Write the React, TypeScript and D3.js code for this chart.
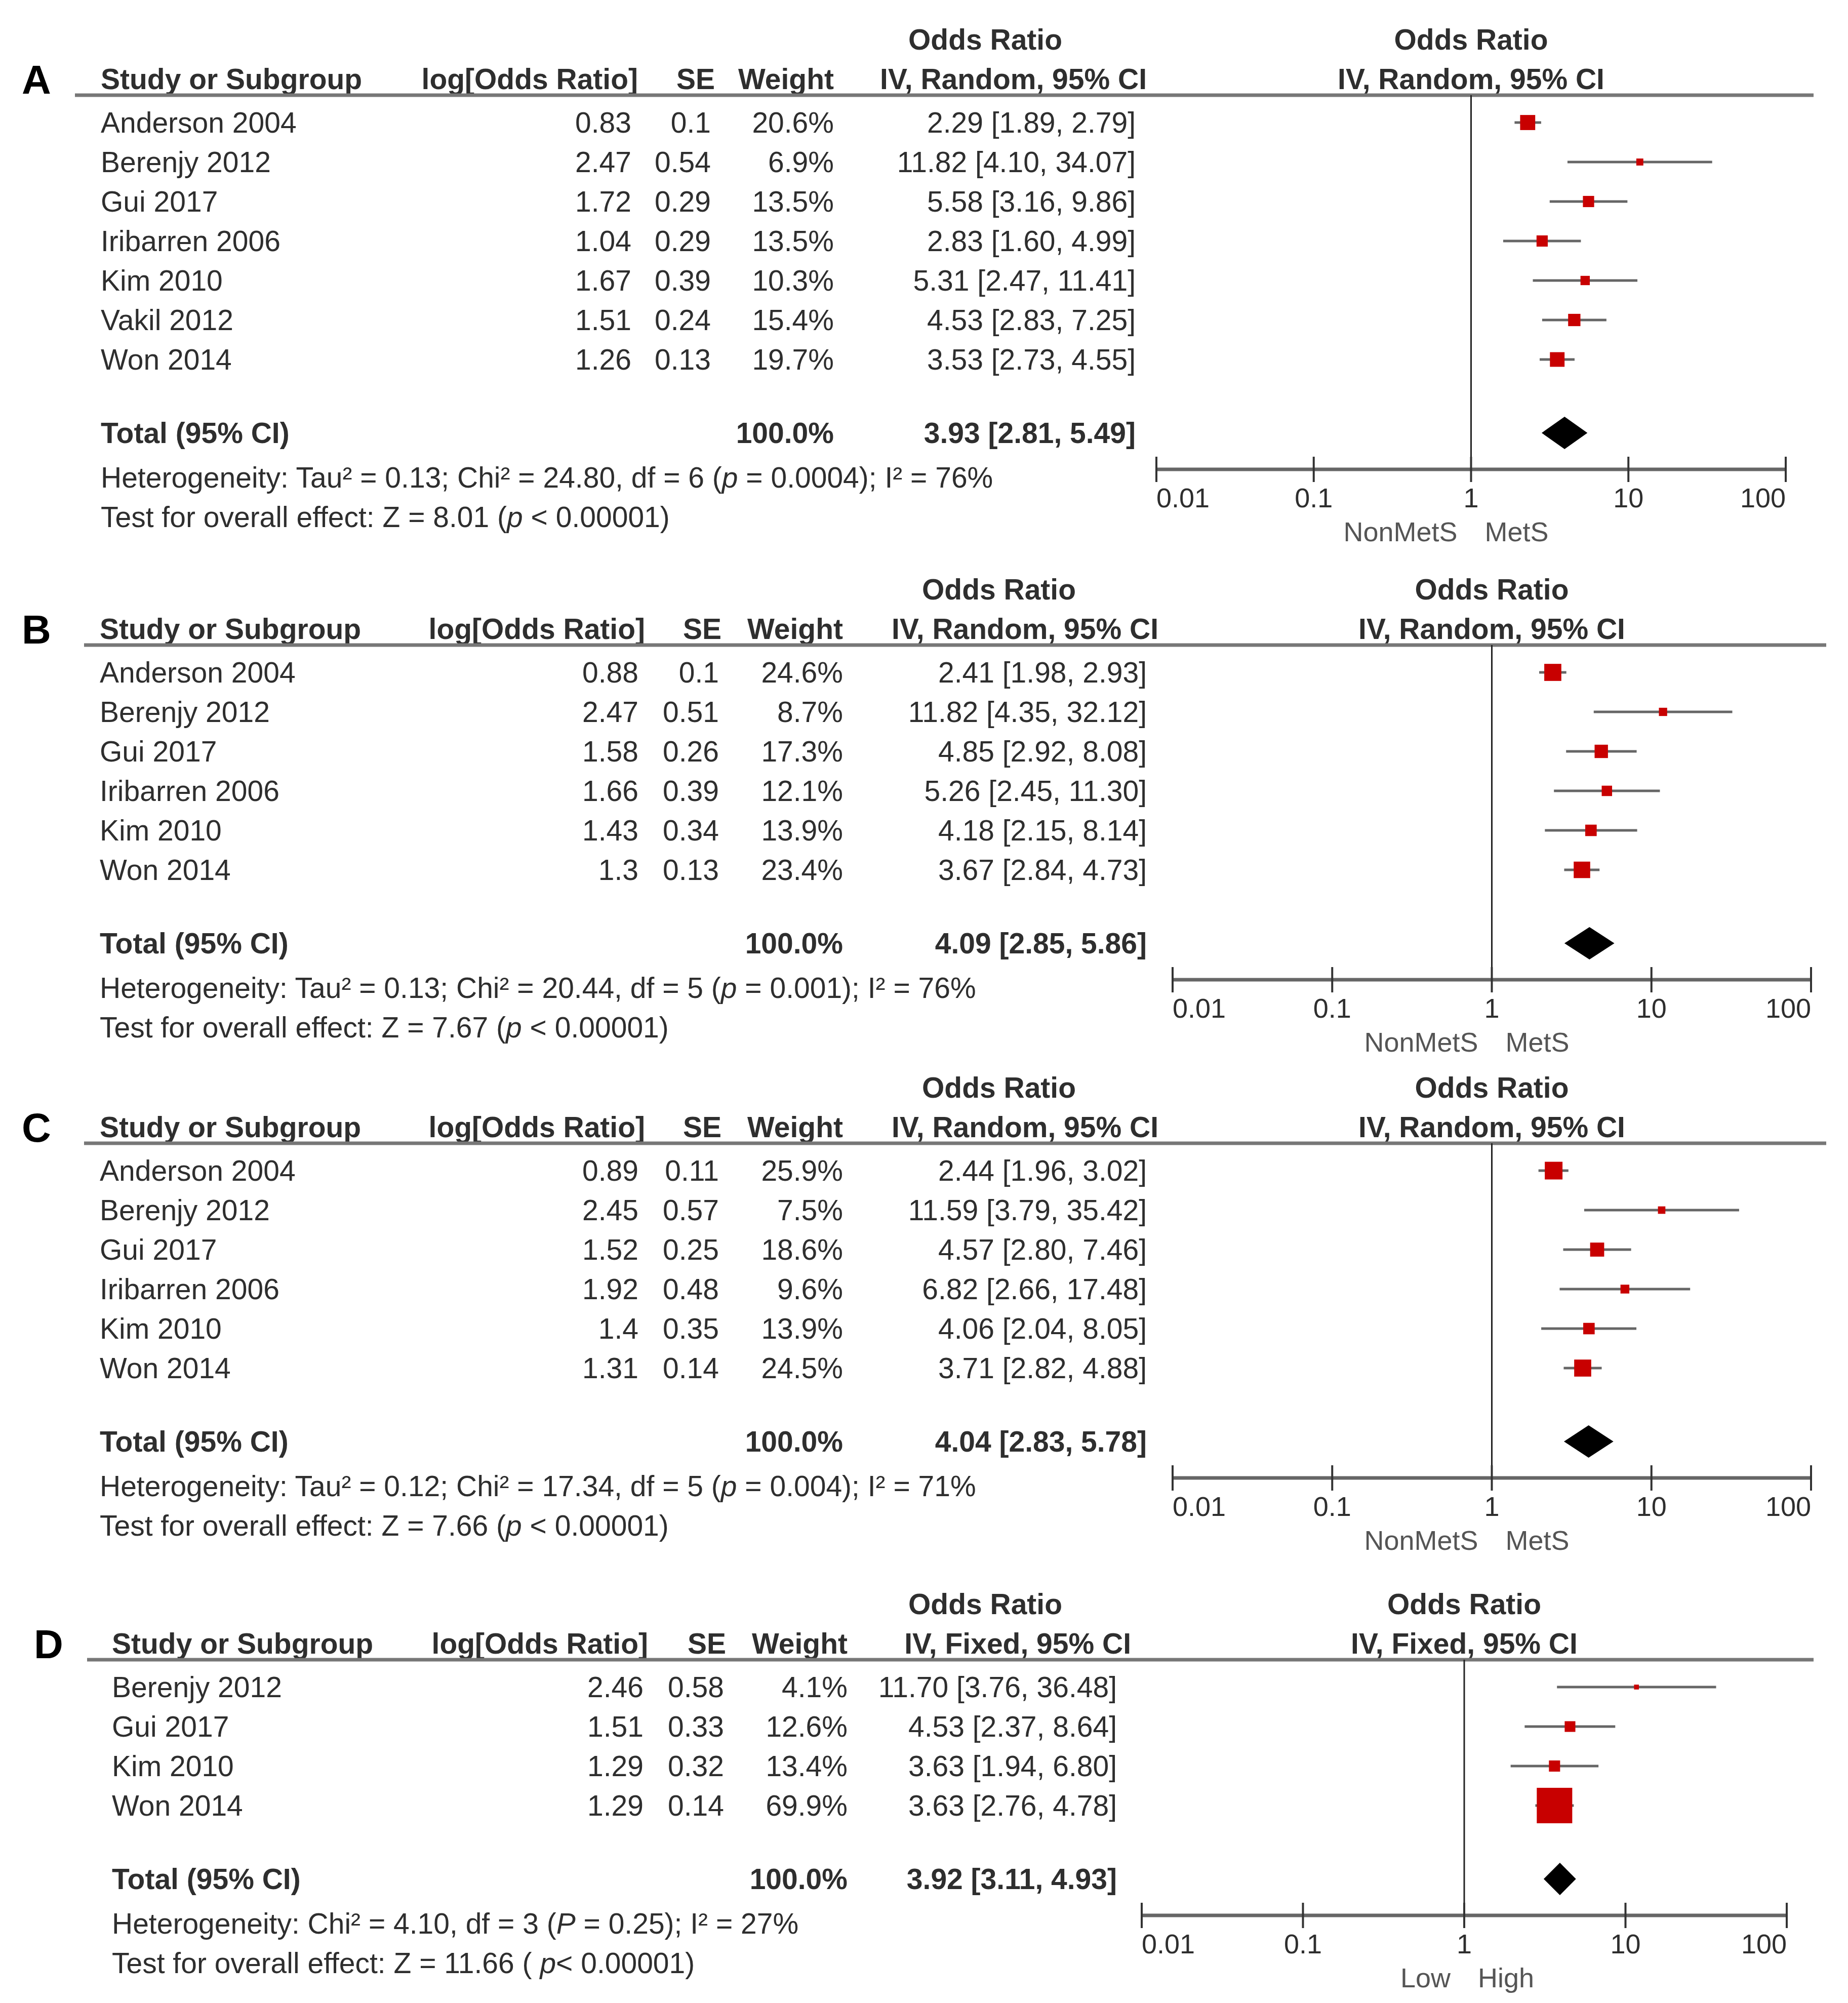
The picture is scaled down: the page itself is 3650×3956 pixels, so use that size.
import * as d3 from "d3";
import React, { useEffect } from "react";

// ---- data ----
const studiesA = ["Anderson 2004", "Berenjy 2012", "Gui 2017", "Iribarren 2006", "Kim 2010", "Vakil 2012", "Won 2014"];
const logOrA = [0.83, 2.47, 1.72, 1.04, 1.67, 1.51, 1.26];
const seA = [0.1, 0.54, 0.29, 0.29, 0.39, 0.24, 0.13];
const weightA = [20.6, 6.9, 13.5, 13.5, 10.3, 15.4, 19.7];
const orA = [2.29, 11.82, 5.58, 2.83, 5.31, 4.53, 3.53];
const lowA = [1.89, 4.1, 3.16, 1.6, 2.47, 2.83, 2.73];
const highA = [2.79, 34.07, 9.86, 4.99, 11.41, 7.25, 4.55];
const totalA = [3.93, 2.81, 5.49];

const studiesB = ["Anderson 2004", "Berenjy 2012", "Gui 2017", "Iribarren 2006", "Kim 2010", "Won 2014"];
const logOrB = [0.88, 2.47, 1.58, 1.66, 1.43, 1.3];
const seB = [0.1, 0.51, 0.26, 0.39, 0.34, 0.13];
const weightB = [24.6, 8.7, 17.3, 12.1, 13.9, 23.4];
const orB = [2.41, 11.82, 4.85, 5.26, 4.18, 3.67];
const lowB = [1.98, 4.35, 2.92, 2.45, 2.15, 2.84];
const highB = [2.93, 32.12, 8.08, 11.3, 8.14, 4.73];
const totalB = [4.09, 2.85, 5.86];

const studiesC = ["Anderson 2004", "Berenjy 2012", "Gui 2017", "Iribarren 2006", "Kim 2010", "Won 2014"];
const logOrC = [0.89, 2.45, 1.52, 1.92, 1.4, 1.31];
const seC = [0.11, 0.57, 0.25, 0.48, 0.35, 0.14];
const weightC = [25.9, 7.5, 18.6, 9.6, 13.9, 24.5];
const orC = [2.44, 11.59, 4.57, 6.82, 4.06, 3.71];
const lowC = [1.96, 3.79, 2.8, 2.66, 2.04, 2.82];
const highC = [3.02, 35.42, 7.46, 17.48, 8.05, 4.88];
const totalC = [4.04, 2.83, 5.78];

const studiesD = ["Berenjy 2012", "Gui 2017", "Kim 2010", "Won 2014"];
const logOrD = [2.46, 1.51, 1.29, 1.29];
const seD = [0.58, 0.33, 0.32, 0.14];
const weightD = [4.1, 12.6, 13.4, 69.9];
const orD = [11.7, 4.53, 3.63, 3.63];
const lowD = [3.76, 2.37, 1.94, 2.76];
const highD = [36.48, 8.64, 6.8, 4.78];
const totalD = [3.92, 3.11, 4.93];

const axisTicks = [0.01, 0.1, 1, 10, 100];
const tickLabels = ["0.01", "0.1", "1", "10", "100"];

const FONT = "'Liberation Sans', Arial, Helvetica, sans-serif";
const FS = 57;
const TXT = "#2e2e2e";
const cap = (fs: number) => fs * 0.358;

type PanelProps = {
  top: number;
  label: string;
  labelX: number;
  lineX0: number;
  lineX1: number;
  studyX: number;
  logEnd: number;
  logHeadEnd: number;
  seEnd: number;
  seHeadEnd: number;
  wEnd: number;
  ciEnd: number;
  ciHeadEnd: number;
  orTitleX: number;
  axisRange: [number, number];
  method: string;
  legend: [string, string];
  studies: string[];
  logOr: number[];
  se: number[];
  weight: number[];
  or: number[];
  low: number[];
  high: number[];
  total: number[];
  het: React.ReactNode;
  test: React.ReactNode;
};

const sizeScale = d3.scalePow().exponent(0.7).domain([0, 100]).range([0, 90]);

function Panel(p: PanelProps) {
  const x = d3.scaleLog().domain([0.01, 100]).range(p.axisRange);
  const titleY = p.top + 78;
  const headY = p.top + 156;
  const lineY = p.top + 188;
  const rowY = (i: number) => p.top + 242 + 78 * i;
  const totalY = rowY(p.studies.length - 1) + 145;
  const hetY = totalY + 88;
  const testY = hetY + 78;
  const axisY = totalY + 72;
  const x1 = x(1);
  const b = cap(FS);
  const f2 = (v: number) => v.toFixed(2);
  const ciText = (o: number, l: number, h: number) => `${f2(o)} [${f2(l)}, ${f2(h)}]`;

  return (
    <g fontFamily={FONT} fontSize={FS} fill={TXT}>
      {/* panel letter */}
      <text x={p.labelX} y={headY + cap(80)} fontSize={80} fontWeight="bold" fill="#000" textAnchor="middle">
        {p.label}
      </text>
      {/* headers */}
      <g fontWeight="bold">
        <text x={p.orTitleX} y={titleY + b} textAnchor="middle">Odds Ratio</text>
        <text x={x1} y={titleY + b} textAnchor="middle">Odds Ratio</text>
        <text x={p.studyX} y={headY + b}>Study or Subgroup</text>
        <text x={p.logHeadEnd} y={headY + b} textAnchor="end">log[Odds Ratio]</text>
        <text x={p.seHeadEnd} y={headY + b} textAnchor="end">SE</text>
        <text x={p.wEnd} y={headY + b} textAnchor="end">Weight</text>
        <text x={p.ciHeadEnd} y={headY + b} textAnchor="end">{`IV, ${p.method}, 95% CI`}</text>
        <text x={x1} y={headY + b} textAnchor="middle">{`IV, ${p.method}, 95% CI`}</text>
      </g>
      <line x1={p.lineX0} x2={p.lineX1} y1={lineY} y2={lineY} stroke="#777" strokeWidth={7} />
      {/* line of no effect */}
      <line x1={x1} x2={x1} y1={lineY} y2={axisY} stroke="#222" strokeWidth={3} />
      {/* study rows */}
      {p.studies.map((s, i) => {
        const y = rowY(i);
        const side = sizeScale(p.weight[i]);
        return (
          <g key={s}>
            <text x={p.studyX} y={y + b}>{s}</text>
            <text x={p.logEnd} y={y + b} textAnchor="end">{String(p.logOr[i])}</text>
            <text x={p.seEnd} y={y + b} textAnchor="end">{String(p.se[i])}</text>
            <text x={p.wEnd} y={y + b} textAnchor="end">{`${p.weight[i].toFixed(1)}%`}</text>
            <text x={p.ciEnd} y={y + b} textAnchor="end">{ciText(p.or[i], p.low[i], p.high[i])}</text>
            <line x1={x(p.low[i])} x2={x(p.high[i])} y1={y} y2={y} stroke="#666" strokeWidth={5} />
            <rect
              x={x(p.or[i]) - side / 2}
              y={y - side / 2}
              width={side}
              height={side}
              fill="#c80000"
            />
          </g>
        );
      })}
      {/* total */}
      <g fontWeight="bold">
        <text x={p.studyX} y={totalY + b}>Total (95% CI)</text>
        <text x={p.wEnd} y={totalY + b} textAnchor="end">100.0%</text>
        <text x={p.ciEnd} y={totalY + b} textAnchor="end">{ciText(p.total[0], p.total[1], p.total[2])}</text>
      </g>
      <path
        d={`M${x(p.total[1])},${totalY} L${x(p.total[0])},${totalY - 32} L${x(p.total[2])},${totalY} L${x(p.total[0])},${totalY + 32} Z`}
        fill="#000"
      />
      <text x={p.studyX} y={hetY + b}>{p.het}</text>
      <text x={p.studyX} y={testY + b}>{p.test}</text>
      {/* axis */}
      <line x1={p.axisRange[0]} x2={p.axisRange[1]} y1={axisY} y2={axisY} stroke="#666" strokeWidth={7} />
      {axisTicks.map((t, i) => (
        <g key={t}>
          <line x1={x(t)} x2={x(t)} y1={axisY - 25} y2={axisY + 25} stroke="#333" strokeWidth={4} />
          <text
            x={x(t)}
            y={axisY + 55 + b}
            fontSize={54}
            textAnchor={i === 0 ? "start" : i === axisTicks.length - 1 ? "end" : "middle"}
          >
            {tickLabels[i]}
          </text>
        </g>
      ))}
      <text x={x1 - 27} y={axisY + 122 + b} fontSize={54} fill="#555" textAnchor="end">{p.legend[0]}</text>
      <text x={x1 + 27} y={axisY + 122 + b} fontSize={54} fill="#555">{p.legend[1]}</text>
    </g>
  );
}

const I = ({ children }: { children: React.ReactNode }) => <tspan fontStyle="italic">{children}</tspan>;

export default function App() {
  useEffect(() => {
    document.body.style.margin = "0";
  }, []);

  const colsA = {
    labelX: 72, lineX0: 148, lineX1: 3582, studyX: 199,
    logEnd: 1247, logHeadEnd: 1260, seEnd: 1404, seHeadEnd: 1412,
    wEnd: 1647, ciEnd: 2243, ciHeadEnd: 2265, orTitleX: 1946,
    axisRange: [2284, 3527] as [number, number],
  };
  const colsBC = {
    labelX: 72, lineX0: 166, lineX1: 3607, studyX: 197,
    logEnd: 1261, logHeadEnd: 1274, seEnd: 1420, seHeadEnd: 1425,
    wEnd: 1665, ciEnd: 2265, ciHeadEnd: 2288, orTitleX: 1973,
    axisRange: [2316, 3577] as [number, number],
  };
  const colsD = {
    labelX: 96, lineX0: 172, lineX1: 3582, studyX: 221,
    logEnd: 1271, logHeadEnd: 1280, seEnd: 1430, seHeadEnd: 1434,
    wEnd: 1674, ciEnd: 2206, ciHeadEnd: 2234, orTitleX: 1946,
    axisRange: [2255, 3529] as [number, number],
  };

  return (
    <svg width={3650} height={3956} style={{ display: "block", background: "#fff" }}>
      <rect width={3650} height={3956} fill="#fff" />
      <Panel
        top={0} label="A" {...colsA} method="Random" legend={["NonMetS", "MetS"]}
        studies={studiesA} logOr={logOrA} se={seA} weight={weightA} or={orA} low={lowA} high={highA} total={totalA}
        het={<>Heterogeneity: Tau² = 0.13; Chi² = 24.80, df = 6 (<I>p</I> = 0.0004); I² = 76%</>}
        test={<>Test for overall effect: Z = 8.01 (<I>p</I> &lt; 0.00001)</>}
      />
      <Panel
        top={1086} label="B" {...colsBC} method="Random" legend={["NonMetS", "MetS"]}
        studies={studiesB} logOr={logOrB} se={seB} weight={weightB} or={orB} low={lowB} high={highB} total={totalB}
        het={<>Heterogeneity: Tau² = 0.13; Chi² = 20.44, df = 5 (<I>p</I> = 0.001); I² = 76%</>}
        test={<>Test for overall effect: Z = 7.67 (<I>p</I> &lt; 0.00001)</>}
      />
      <Panel
        top={2070} label="C" {...colsBC} method="Random" legend={["NonMetS", "MetS"]}
        studies={studiesC} logOr={logOrC} se={seC} weight={weightC} or={orC} low={lowC} high={highC} total={totalC}
        het={<>Heterogeneity: Tau² = 0.12; Chi² = 17.34, df = 5 (<I>p</I> = 0.004); I² = 71%</>}
        test={<>Test for overall effect: Z = 7.66 (<I>p</I> &lt; 0.00001)</>}
      />
      <Panel
        top={3090} label="D" {...colsD} method="Fixed" legend={["Low", "High"]}
        studies={studiesD} logOr={logOrD} se={seD} weight={weightD} or={orD} low={lowD} high={highD} total={totalD}
        het={<>Heterogeneity: Chi² = 4.10, df = 3 (<I>P</I> = 0.25); I² = 27%</>}
        test={<>Test for overall effect: Z = 11.66 ( <I>p</I>&lt; 0.00001)</>}
      />
    </svg>
  );
}
